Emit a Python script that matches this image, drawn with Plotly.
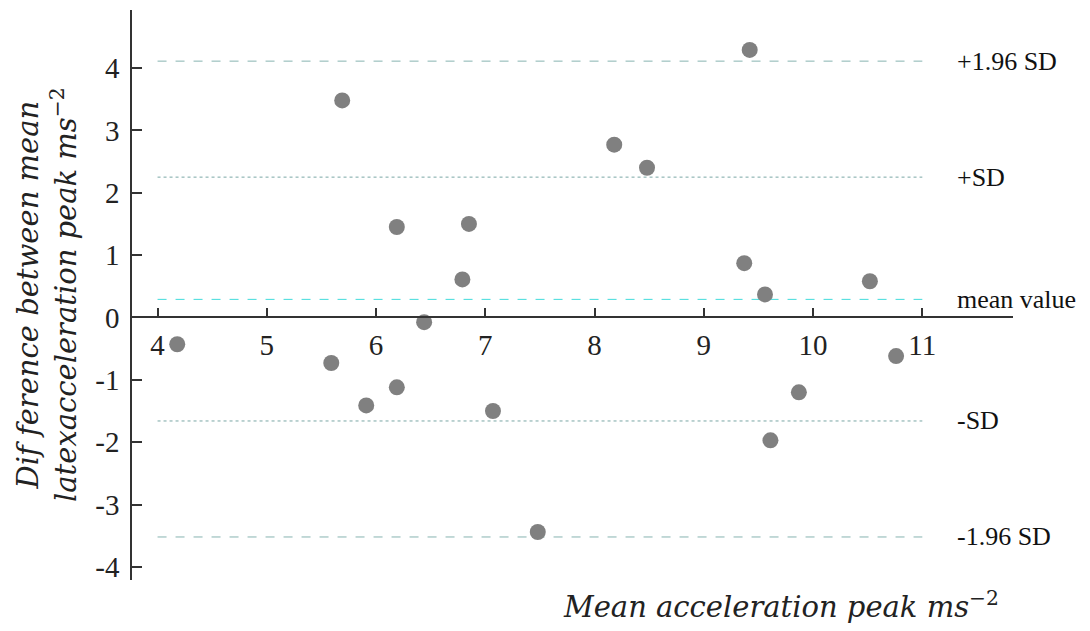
import plotly.graph_objects as go

mean_x = [4.18, 5.69, 5.59, 5.91, 6.19, 6.19, 6.44, 6.79, 6.85, 7.07,
          7.48, 8.18, 8.48, 9.42, 9.37, 9.56, 9.61, 9.87, 10.52, 10.76]
diff_y = [-0.43, 3.48, -0.73, -1.41, 1.45, -1.12, -0.075, 0.61, 1.50, -1.50,
          -3.44, 2.77, 2.40, 4.29, 0.87, 0.37, -1.97, -1.20, 0.58, -0.62]

line_names = ["+1.96 SD", "+SD", "mean value", "-SD", "-1.96 SD"]
line_values = [4.11, 2.25, 0.29, -1.66, -3.52]
line_colors = ["#86b3b0", "#7aa6a5", "#40dcdc", "#7aa6a5", "#86b3b0"]
line_dashes = ["dash", "dot", "dash", "dot", "dash"]
line_x = [4, 11]

x_ticks = [4, 5, 6, 7, 8, 9, 10, 11]
y_ticks = [-4, -3, -2, -1, 0, 1, 2, 3, 4]
y_ticktext = ["-4", "-3", "-2", "-1", "0", "1", "2", "3", "4"]

x_range = [3.766, 11.83]
y_range = [-4.21, 4.93]

FONT = "Liberation Serif, Times New Roman, serif"
TFONT = "DejaVu Serif, Liberation Serif, serif"

fig = go.Figure()

for name, v, c, d in zip(line_names, line_values, line_colors, line_dashes):
    fig.add_trace(go.Scatter(x=line_x, y=[v, v], mode="lines",
                             line=dict(color=c, width=1, dash=d),
                             showlegend=False, hoverinfo="skip"))
    fig.add_annotation(x=11.3, y=v, xref="x", yref="y", text=name,
                       showarrow=False, xanchor="left", yanchor="middle",
                       font=dict(family=FONT, size=26, color="#111111"))

fig.add_trace(go.Scatter(x=mean_x, y=diff_y, mode="markers",
                         marker=dict(color="#808080", size=16),
                         showlegend=False))

zero_pos = (0 - y_range[0]) / (y_range[1] - y_range[0])

fig.update_layout(
    width=1082, height=623,
    margin=dict(l=124, r=77, t=2, b=51),
    paper_bgcolor="white", plot_bgcolor="white",
    font=dict(family=FONT, size=28, color="#222222"),
    xaxis=dict(range=x_range, tickvals=x_ticks, ticks="inside", ticklen=9,
               tickwidth=1.5, tickcolor="#333333",
               showline=True, linecolor="#333333", linewidth=1.5,
               showgrid=False, zeroline=False, anchor="free",
               position=zero_pos, side="bottom", ticklabelstandoff=2,
               tickfont=dict(family=FONT, size=29, color="#222222")),
    yaxis=dict(range=y_range, tickvals=y_ticks, ticktext=y_ticktext,
               ticks="inside", ticklen=10, tickwidth=1.5, tickcolor="#333333",
               showline=True, linecolor="#333333", linewidth=1.5,
               showgrid=False, zeroline=False, ticklabelstandoff=5,
               tickfont=dict(family=FONT, size=29, color="#222222")),
)

fig.add_annotation(xref="paper", yref="paper", x=1.0 - 12 / 881, y=-25 / 570,
                   xanchor="right", yanchor="middle", showarrow=False,
                   text="<i>Mean acceleration peak ms</i><sup>−2</sup>",
                   font=dict(family=TFONT, size=29, color="#222222"))

fig.add_annotation(xref="paper", yref="paper", x=-85 / 881, y=0.5,
                   xanchor="center", yanchor="middle", showarrow=False,
                   textangle=-90,
                   text="<i>Dif ference between mean</i><br><i>latexacceleration peak ms</i><sup>−2</sup>",
                   font=dict(family=TFONT, size=29, color="#222222"))

fig.write_html("out.html")
